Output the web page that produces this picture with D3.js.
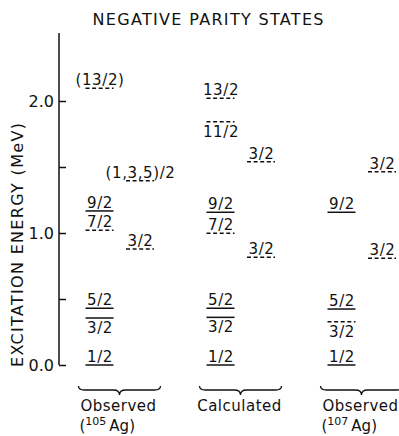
<!DOCTYPE html>
<html>
<head>
<meta charset="utf-8">
<script src="https://cdn.jsdelivr.net/npm/d3@7"></script>
<style>
  html, body { margin: 0; padding: 0; background: #fff; }
  svg { display: block; }
  text { font-family: "DejaVu Sans", sans-serif; fill: #111; }
</style>
</head>
<body>
<div id="chart"></div>
<script>
// Negative-parity level scheme for 105Ag / 107Ag: observed vs calculated.
const groupKeys = ["obs105", "calc", "obs107"];
const groupTitles = ["Observed", "Calculated", "Observed"];
const groupIsotopes = ["105", null, "107"];

const columns = ["main", "side"];
const energyTicks = [0, 0.5, 1.0, 1.5, 2.0];
const energyTickLabels = [0, 1.0, 2.0];

// Observed, 105Ag
const obs105Spins   = ["1/2", "3/2", "5/2", "7/2", "9/2", "3/2", "(1,3,5)/2", "(13/2)"];
const obs105Energy  = [0, 0.356, 0.43, 1.02, 1.167, 0.879, 1.396, 2.096];
const obs105Firm    = [true, true, true, false, true, false, false, false];
const obs105Column  = ["main", "main", "main", "main", "main", "side", "side", "main"];
const obs105LabelUp = [true, false, true, true, true, true, true, true];

// Calculated
const calcSpins   = ["1/2", "3/2", "5/2", "7/2", "9/2", "3/2", "3/2", "11/2", "13/2"];
const calcEnergy  = [0, 0.361, 0.43, 0.998, 1.157, 0.816, 1.54, 1.843, 2.02];
const calcFirm    = [true, true, true, false, true, false, false, false, false];
const calcColumn  = ["main", "main", "main", "main", "main", "side", "side", "main", "main"];
const calcLabelUp = [true, false, true, true, true, true, true, false, true];

// Observed, 107Ag
const obs107Spins   = ["1/2", "3/2", "5/2", "9/2", "3/2", "3/2"];
const obs107Energy  = [0, 0.328, 0.424, 1.157, 0.808, 1.464];
const obs107Firm    = [true, false, true, true, false, false];
const obs107Column  = ["main", "main", "main", "main", "side", "side"];
const obs107LabelUp = [true, false, true, true, true, true];

function buildLevels(group, spins, energy, firm, column, labelUp) {
  return spins.map((s, i) => ({
    group, spin: s, energy: energy[i], firm: firm[i], column: column[i], labelUp: labelUp[i]
  }));
}

const levels = [].concat(
  buildLevels("obs105", obs105Spins, obs105Energy, obs105Firm, obs105Column, obs105LabelUp),
  buildLevels("calc", calcSpins, calcEnergy, calcFirm, calcColumn, calcLabelUp),
  buildLevels("obs107", obs107Spins, obs107Energy, obs107Firm, obs107Column, obs107LabelUp)
);

const width = 399, height = 436;
const svg = d3.select("#chart").append("svg")
  .attr("width", width).attr("height", height);

const axisX = 59;
const y = d3.scaleLinear().domain([0, 2.5]).range([365, 35]);
const xGroup = d3.scaleBand().domain(groupKeys).range([axisX, 422]).padding(0);
const xCol = d3.scalePoint().domain(columns).range([40.5, 81]);
const levelWidth = 28;

// Title
svg.append("text")
  .attr("x", 208).attr("y", 25)
  .attr("text-anchor", "middle")
  .attr("font-size", 16)
  .attr("textLength", 231).attr("lengthAdjust", "spacing")
  .text("NEGATIVE PARITY STATES");

// Energy axis (ticks point inward)
const axis = d3.axisRight(y)
  .tickValues(energyTicks)
  .tickSize(7)
  .tickSizeOuter(0)
  .tickFormat("");
const axisG = svg.append("g")
  .attr("transform", `translate(${axisX},0)`)
  .call(axis);
axisG.selectAll("path, line").attr("stroke", "#111").attr("stroke-width", 1.5);
axisG.select(".domain").attr("d", `M0,${y(0)}V${y(2.5) - 2}`);

svg.selectAll("text.tick-label")
  .data(energyTickLabels)
  .join("text")
  .attr("class", "tick-label")
  .attr("x", axisX - 5)
  .attr("y", d => y(d) + 6)
  .attr("text-anchor", "end")
  .attr("font-size", 16)
  .text(d => d3.format(".1f")(d));

svg.append("text")
  .attr("transform", `translate(23,${y(0) - 120}) rotate(-90)`)
  .attr("text-anchor", "middle")
  .attr("font-size", 16)
  .attr("textLength", 244).attr("lengthAdjust", "spacing")
  .text("EXCITATION ENERGY (MeV)");

// Levels
const levelX = d => xGroup(d.group) + xCol(d.column);
const lg = svg.append("g").selectAll("g.level").data(levels).join("g").attr("class", "level");

lg.append("line")
  .attr("x1", d => levelX(d) - levelWidth / 2)
  .attr("x2", d => levelX(d) + levelWidth / 2)
  .attr("y1", d => y(d.energy))
  .attr("y2", d => y(d.energy))
  .attr("stroke", "#111")
  .attr("stroke-width", 1.5)
  .attr("stroke-dasharray", d => d.firm ? null : "4,2.6");

lg.append("text")
  .attr("x", d => levelX(d) + 0.5)
  .attr("y", d => d.labelUp ? y(d.energy) - 3 : y(d.energy) + 15)
  .attr("text-anchor", "middle")
  .attr("font-size", 15)
  .attr("letter-spacing", 0.6)
  .text(d => d.spin);

// Group braces and captions
const braceTop = 386, braceHalf = 41;
function bracePath(cx) {
  const x1 = cx - braceHalf, x2 = cx + braceHalf, yb = braceTop + 4;
  return `M${x1},${braceTop} Q${x1},${yb} ${x1 + 6},${yb} L${cx - 6},${yb} Q${cx},${yb} ${cx},${yb + 5}` +
         ` Q${cx},${yb} ${cx + 6},${yb} L${x2 - 6},${yb} Q${x2},${yb} ${x2},${braceTop}`;
}
const gg = svg.append("g").selectAll("g.grp").data(groupKeys).join("g").attr("class", "grp");
const gCenter = k => xGroup(k) + xGroup.bandwidth() / 2;

gg.append("path")
  .attr("d", k => bracePath(gCenter(k)))
  .attr("fill", "none")
  .attr("stroke", "#111")
  .attr("stroke-width", 1.3);

gg.append("text")
  .attr("x", k => gCenter(k) - 1)
  .attr("y", 411)
  .attr("text-anchor", "middle")
  .attr("font-size", 15)
  .attr("letter-spacing", 0.5)
  .text((k, i) => groupTitles[i]);

gg.filter((k, i) => groupIsotopes[i] !== null)
  .append("text")
  .attr("x", k => gCenter(k) - 40)
  .attr("y", 431)
  .attr("font-size", 15)
  .each(function (k) {
    const iso = groupIsotopes[groupKeys.indexOf(k)];
    const t = d3.select(this);
    t.append("tspan").text("(");
    t.append("tspan").attr("font-size", 11).attr("dy", -6).text(iso);
    t.append("tspan").attr("dy", 6).attr("dx", 3).text("Ag)");
  });
</script>
</body>
</html>
